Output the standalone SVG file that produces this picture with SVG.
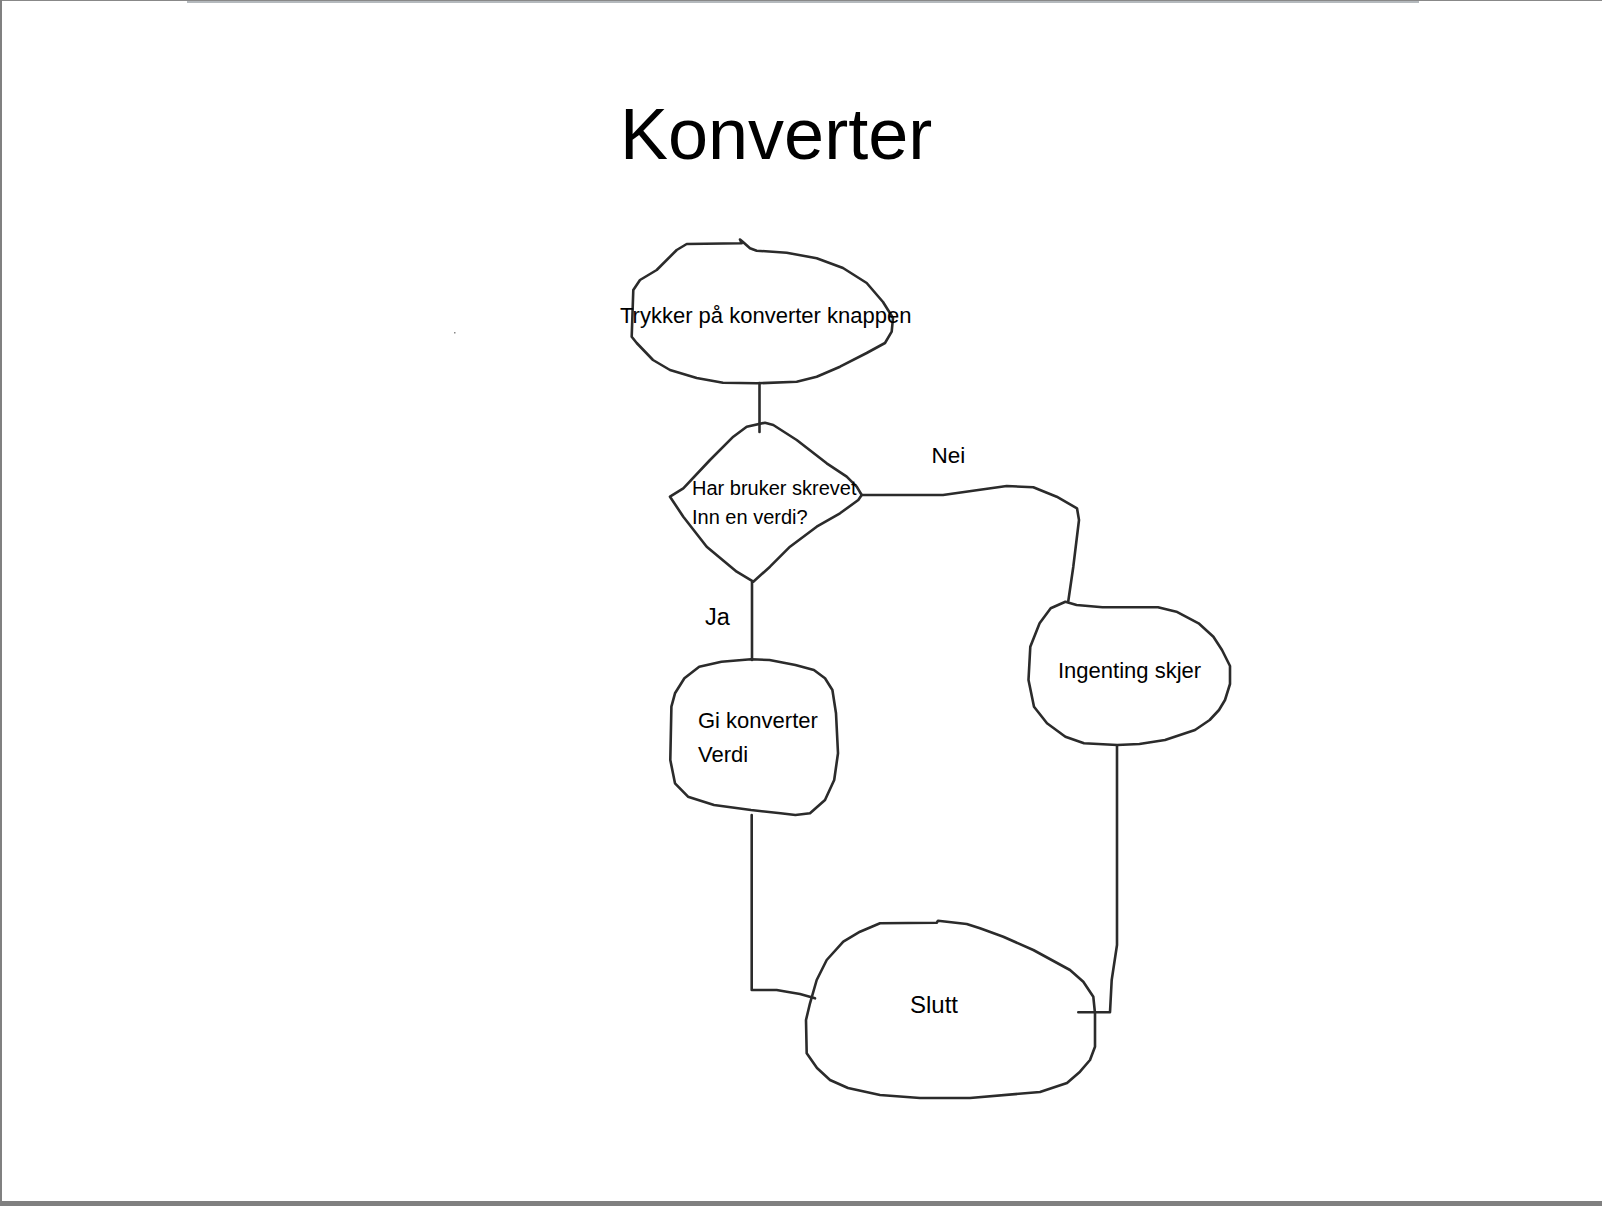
<svg xmlns="http://www.w3.org/2000/svg" width="1602" height="1206" viewBox="0 0 1602 1206">
<style>
.sk{fill:none;stroke:#2b2b2b;stroke-width:2.6;stroke-linejoin:round;stroke-linecap:round}
.t{font-family:"Liberation Sans",Arial,sans-serif;fill:#000}
</style>
<rect width="1602" height="1206" fill="#fff"/>
<rect x="0" y="0" width="1602" height="1" fill="#888"/>
<rect x="187" y="1" width="1232" height="2" fill="#b4b9bd"/>
<rect x="0" y="0" width="2" height="1206" fill="#808080"/>
<rect x="0" y="1201" width="1602" height="5" fill="#808080"/>
<rect x="454" y="332" width="1.5" height="1.5" fill="#888"/>
<text class="t" x="620" y="159" font-size="72">Konverter</text>
<g id="connectors" class="sk">
<path d="M759.5,383 L759.5,432"/>
<path d="M861.7,495 L943,495 L973,490.7 L1006.7,486 L1033.3,487.3 L1056.7,496.7 L1077,508.3 L1079,520 L1073.3,566.7 L1068.3,601"/>
<path d="M752,582 L752,660"/>
<path d="M751.7,815 L751.7,990 L776.7,990 L786.7,991.7 L800,994 L815,998.3"/>
<path d="M1117,746 L1117,945 L1111.7,980 L1110,1012.3 L1078.3,1012.3"/>
</g>
<g id="n-start">
<path class="sk" d="M686.7,244 L741.7,243.3 L740,239.5 L743,242 L750,248.3 L756.7,250.7 L786.7,252.7 L816.7,258.3 L843,268 L866.7,283 L883,302 L893,318 L891.7,331.7 L885,343 L866.7,353 L840,366.7 L816.7,376.7 L796.7,381.7 L756.7,383.3 L723,382.7 L696.7,378 L670,370 L653,360 L636.7,343 L631.7,336.7 L633.3,290 L640,280 L656.7,270 L676.7,250 Z"/>
<text class="t" x="620" y="323" font-size="22">Trykker på konverter knappen</text>
</g>
<g id="n-decision">
<path class="sk" d="M746.7,426.7 L765,422.7 L773.3,425 L796.7,440 L826.7,463.3 L846.7,476.7 L856.7,486.7 L861.7,495 L858.3,500 L840,513.3 L816.7,526.7 L790,546.7 L770,566.7 L753.3,581.7 L736.7,571.7 L706.7,546.7 L683.3,516.7 L670,496.7 L683.3,488.3 L710,460 L733.3,436.7 Z"/>
<text class="t" x="692" y="495" font-size="20">Har bruker skrevet</text>
<text class="t" x="692" y="524.3" font-size="20">Inn en verdi?</text>
</g>
<text class="t" x="931.5" y="463.3" font-size="22.5">Nei</text>
<text class="t" x="705" y="625" font-size="23.5">Ja</text>
<g id="n-gi">
<path class="sk" d="M751,659.3 L769.5,660 L795.4,665 L813.9,670 L825,678.3 L832.4,690 L836,713.3 L838,753.3 L834.2,780 L825,800 L810,813.3 L795.4,815 L780.6,813.3 L751,810 L714,805 L688,796.7 L675,783.3 L670.3,760 L671.4,706.7 L675,693.3 L684.4,678.3 L699.2,666.7 L721.4,661.7 Z"/>
<text class="t" x="698" y="728.3" font-size="22">Gi konverter</text>
<text class="t" x="698" y="761.7" font-size="22">Verdi</text>
</g>
<g id="n-ingenting">
<path class="sk" d="M1065.4,601.7 L1076.6,605 L1102.5,607.3 L1158,607.3 L1176.4,611.7 L1198.6,623.3 L1213.4,636.7 L1222,650 L1230,666 L1230,684 L1225,700 L1219,710 L1209.7,720 L1195,730 L1165,740 L1139.4,744 L1117.2,745 L1084,743.3 L1065.4,736.7 L1047,723.3 L1034,706.7 L1028.5,680 L1030.3,646.7 L1039.6,623.3 L1050.7,608.3 Z"/>
<text class="t" x="1058" y="678.3" font-size="22">Ingenting skjer</text>
</g>
<g id="n-slutt">
<path class="sk" d="M880,923.3 L936.7,922.7 L938,920.7 L966.7,924 L980,928.3 L1003.3,936.7 L1033.3,950 L1070,970 L1083.3,981.7 L1093.3,996.7 L1095,1013.3 L1095,1046.7 L1090,1060 L1080,1071.7 L1067,1083 L1040,1092 L970,1098 L920,1098 L880,1095 L848,1088 L830,1080 L817,1068 L806.7,1053.3 L806,1020 L810,1003.3 L816.7,980 L826.7,960 L843.3,941.7 L860,931.7 Z"/>
<text class="t" x="910" y="1013.3" font-size="24">Slutt</text>
</g>
</svg>
